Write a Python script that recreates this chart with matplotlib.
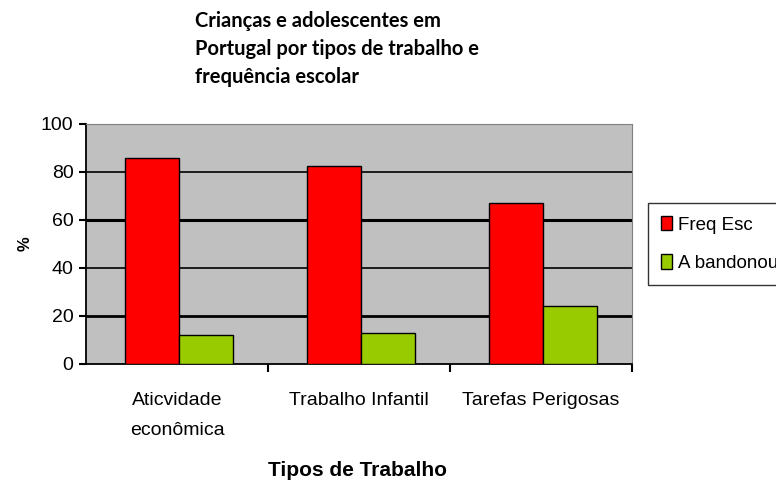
import numpy as np
import matplotlib
matplotlib.use('Agg')
import matplotlib.pyplot as plt

# dados
categorias = ['Aticvidade\neconômica', 'Trabalho Infantil', 'Tarefas Perigosas']
freq_esc = [86, 82.5, 67]
abandonou = [12, 13, 24]
series = ['Freq Esc', 'A bandonou']
cores = ['#ff0000', '#99cc00']

fig = plt.figure(figsize=(7.76, 4.84), dpi=100)
ax = fig.add_axes([86/776, 1-364/484, 546/776, 240/484])
ax.set_facecolor('#c0c0c0')

x = np.arange(len(categorias))
w = 0.295
ax.bar(x - w/2 + 0.01, freq_esc, w, color=cores[0], edgecolor='black', linewidth=1, label=series[0], zorder=3)
ax.bar(x + w/2 + 0.01, abandonou, w, color=cores[1], edgecolor='black', linewidth=1, label=series[1], zorder=3)

# grelha
for v, lw in [(20, 2), (40, 1.2), (60, 2.2), (80, 1.2)]:
    ax.axhline(v, color='black', linewidth=lw, zorder=1)

ax.set_xlim(-0.5, 2.5)
ax.set_ylim(0, 100)
ax.set_yticks([0, 20, 40, 60, 80, 100])
ax.set_xticks([0.5, 1.5, 2.5], minor=True)
ax.set_xticks(x)
ax.set_xticklabels(categorias, fontsize=14, family='Liberation Sans', linespacing=2.0)
ax.tick_params(axis='x', which='major', length=0, pad=20)
ax.tick_params(axis='x', which='minor', length=6, width=1.5, direction='out')
ax.tick_params(axis='y', labelsize=14, length=5, width=1.5, direction='out', pad=4)
for lab in ax.get_yticklabels():
    lab.set_family('Liberation Sans')

for s in ['top', 'right']:
    ax.spines[s].set_color('#808080')
for s in ['left', 'bottom']:
    ax.spines[s].set_color('black')
    ax.spines[s].set_linewidth(1.3)

ax.set_ylabel('%', fontsize=12, family='Liberation Sans', fontweight='bold', labelpad=6)
fig.text(358/776, 1-470/484, 'Tipos de Trabalho', ha='center', va='center',
         fontsize=15, family='Liberation Sans', fontweight='bold')

fig.text(195/776, 1-11/484, 'Crianças e adolescentes em\nPortugal por tipos de trabalho e\nfrequência escolar',
         ha='left', va='top', fontsize=14.5, family='Lato', fontweight='bold', linespacing=1.5)

leg = fig.legend(loc='upper left', bbox_to_anchor=(648/776, 1-203/484),
                 prop={'family': 'Liberation Sans', 'size': 13.5},
                 frameon=True, fancybox=False, edgecolor='black', handlelength=0.6,
                 handleheight=0.8, handletextpad=0.3, labelspacing=1.1, borderpad=0.7,
                 borderaxespad=0)
leg.get_frame().set_linewidth(1)

fig.savefig('out.png', dpi=100)
